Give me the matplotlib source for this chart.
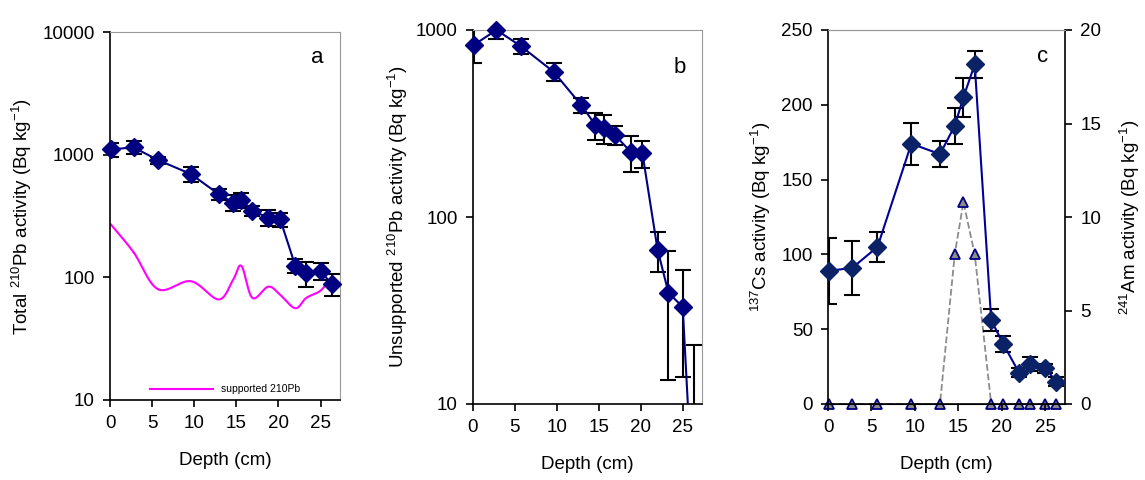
import numpy as np
import matplotlib.pyplot as plt

plt.rcParams['font.family'] = ['Liberation Sans', 'DejaVu Sans']
plt.rcParams['font.size'] = 13.5
plt.rcParams['mathtext.fontset'] = 'custom'
plt.rcParams['mathtext.rm'] = 'Liberation Sans'
plt.rcParams['mathtext.it'] = 'Liberation Sans'

# depths (cm)
depth = [0.1, 2.8, 5.7, 9.6, 12.9, 14.6, 15.6, 16.9, 18.8, 20.2, 22.0, 23.3, 25.0, 26.3]

# a: total 210Pb and supported 210Pb
totalPb = [1105, 1146, 904, 695, 477, 406, 427, 349, 306, 297, 124, 109, 113, 88]
totalPbErr = [140, 140, 60, 95, 50, 60, 60, 35, 45, 40, 16, 25, 18, 18]
supportedPb = [270, 160, 80, 93, 66, 95, 124, 68, 84, 72, 56, 68, 78, 101]

# b: unsupported 210Pb
unsupPb = [832, 1000, 820, 598, 397, 310, 298, 275, 223, 219, 67, 39.4, 33, 2.6]
unsupPbErr = [165, 105, 75, 65, 38, 52, 53, 33, 48, 37, 16, 26, 19, 18]

# c: 137Cs and 241Am
cs137 = [89, 91, 105, 174, 167, 186, 205, 227, 56, 40, 21, 27, 24, 15]
cs137Err = [22, 18, 10, 14, 8.5, 12, 13, 9, 7.5, 5.4, 3, 4.7, 3, 3]
am241 = [0, 0, 0, 0, 0, 8, 10.8, 8, 0, 0, 0, 0, 0, 0]

NAVY = '#000080'


def smooth(x, y, n=30):
    # excel-like smoothed line (catmull-rom through the points)
    x = np.asarray(x, float)
    y = np.asarray(y, float)
    px = np.concatenate([[x[0]], x, [x[-1]]])
    py = np.concatenate([[y[0]], y, [y[-1]]])
    xs, ys = [], []
    t = np.linspace(0, 1, n)
    for i in range(1, len(px) - 2):
        for P, out in ((px, xs), (py, ys)):
            p0, p1, p2, p3 = P[i - 1], P[i], P[i + 1], P[i + 2]
            out.extend(0.5 * (2 * p1 + (-p0 + p2) * t
                              + (2 * p0 - 5 * p1 + 4 * p2 - p3) * t ** 2
                              + (-p0 + 3 * p1 - 3 * p2 + p3) * t ** 3))
    return np.array(xs), np.array(ys)


def style(ax):
    ax.spines['top'].set_color('#999999')
    ax.spines['right'].set_color('#999999')
    ax.tick_params(direction='out', length=5, width=1.2, which='major', pad=6)
    ax.tick_params(which='minor', length=0)
    ax.spines['left'].set_linewidth(1.2)
    ax.spines['bottom'].set_linewidth(1.2)
    ax.set_xlim(0, 27.3)
    ax.set_xticks([0, 5, 10, 15, 20, 25])
    ax.set_xlabel('Depth (cm)', labelpad=14)


def series(ax, x, y, err, mcolor, lcolor):
    ax.errorbar(x, y, yerr=err, color=lcolor, lw=1.5, ecolor='black',
                elinewidth=1.5, capsize=5.5, capthick=1.5)
    x = np.asarray(x)
    y = np.asarray(y)
    lo = ax.get_ylim()[0]
    keep = y >= lo
    ax.plot(x[keep], y[keep], ls='none', marker='D', ms=9.5, mfc=mcolor,
            mec=mcolor, clip_on=False, zorder=4)


fig = plt.figure(figsize=(11.45, 4.8), dpi=100)
W, H = 1145, 480

# panel a
axA = fig.add_axes([110 / W, 1 - 400 / H, 230 / W, 368 / H])
axA.set_yscale('log')
axA.set_ylim(10, 10000)
sx, sy = smooth(depth, np.log10(supportedPb))
axA.plot(sx, 10 ** sy, color='#ff00ff', lw=1.5, label='supported 210Pb')
series(axA, depth, totalPb, totalPbErr, NAVY, NAVY)
axA.set_yticks([10, 100, 1000, 10000])
axA.set_yticklabels(['10', '100', '1000', '10000'])
axA.set_ylabel('Total $^{210}$Pb activity (Bq kg$^{-1}$)', labelpad=6)
axA.legend(loc='lower center', frameon=False, fontsize=7.5, handlelength=6,
           bbox_to_anchor=(0.5, -0.01))
axA.text(0.93, 0.93, 'a', transform=axA.transAxes, ha='right', va='center', fontsize=16)
style(axA)

# panel b
axB = fig.add_axes([473 / W, 1 - 404 / H, 229 / W, 374 / H])
axB.set_yscale('log')
axB.set_ylim(10, 1000)
series(axB, depth, unsupPb, unsupPbErr, NAVY, NAVY)
axB.set_yticks([10, 100, 1000])
axB.set_yticklabels(['10', '100', '1000'])
axB.set_ylabel('Unsupported $^{210}$Pb activity (Bq kg$^{-1}$)', labelpad=4)
axB.text(0.93, 0.9, 'b', transform=axB.transAxes, ha='right', va='center', fontsize=16)
style(axB)

# panel c
axC = fig.add_axes([828 / W, 1 - 404 / H, 237 / W, 374 / H])
axC2 = axC.twinx()
axC.set_ylim(0, 250)
series(axC, depth, cs137, cs137Err, '#0b2366', '#000099')
axC2.plot(depth, am241, color='#8c8c8c', ls='--', lw=1.3, marker='^', ms=7,
          mfc='#8c8c8c', mec='#000080', mew=1.3, clip_on=False)
axC.set_yticks([0, 50, 100, 150, 200, 250])
axC2.set_ylim(0, 20)
axC2.set_yticks([0, 5, 10, 15, 20])
axC.set_ylabel('$^{137}$Cs activity (Bq kg$^{-1}$)', labelpad=6)
axC2.set_ylabel('$^{241}$Am activity (Bq kg$^{-1}$)', labelpad=12)
axC.text(0.93, 0.93, 'c', transform=axC.transAxes, ha='right', va='center', fontsize=16)
style(axC)
axC.spines['right'].set_visible(False)
axC2.spines['top'].set_color('#999999')
axC2.spines['right'].set_color('black')
axC2.spines['right'].set_linewidth(1.2)
axC2.spines['left'].set_visible(False)
axC2.tick_params(direction='out', length=5, width=1.2, pad=6)
axC.set_zorder(axC2.get_zorder() + 1)
axC.patch.set_visible(False)

fig.savefig('out.png', dpi=100)
